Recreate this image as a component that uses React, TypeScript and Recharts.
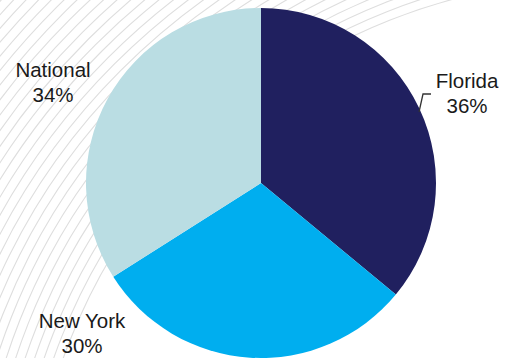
import React from "react";
import { PieChart, Pie, Cell } from "recharts";

const names = ["Florida", "New York", "National"];
const values = [36, 30, 34];
const colors = ["#20205f", "#00aeef", "#badde3"];
const labelOffsets: Record<string, [number, number]> = {
  Florida: [206, -95],
  "New York": [-179, 145],
  National: [-208, -106],
};

const data = names.map((n, i) => ({ name: n, value: values[i] }));

const W = 519;
const H = 358;

const Background = () => {
  const arcs = [];
  for (let i = 0; i < 32; i++) {
    const r = 570 + i * 9;
    arcs.push(
      <circle key={i} cx={600} cy={550} r={r} fill="none" stroke="#dedede" strokeWidth={1.1} />
    );
  }
  return (
    <svg width={W} height={H} style={{ position: "absolute", left: 0, top: 0 }}>
      <rect width={W} height={H} fill="#ffffff" />
      {arcs}
    </svg>
  );
};

const renderLabel = (props: any) => {
  const { cx, cy, name, value } = props;
  const [dx, dy] = labelOffsets[name];
  const x = cx + dx;
  const y = cy + dy;
  return (
    <g>
      {name === "Florida" && (
        <polyline
          points={`${x - 48},${y + 24} ${x - 44},${y + 6} ${x - 36},${y + 6}`}
          fill="none"
          stroke="#333"
          strokeWidth={1.3}
        />
      )}
      <text
        x={x}
        y={y}
        textAnchor="middle"
        fill="#1a1a1a"
        fontFamily="'Liberation Sans', Arial, sans-serif"
        fontSize={20.5}
      >
        <tspan x={x} dy={0}>{name}</tspan>
        <tspan x={x} dy={25}>{`${value}%`}</tspan>
      </text>
    </g>
  );
};

export default function App() {
  return (
    <div style={{ position: "absolute", left: 0, top: 0, width: W, height: H, overflow: "hidden" }}>
      <Background />
      <div style={{ position: "absolute", left: 0, top: 0 }}>
        <PieChart width={W} height={H} margin={{ top: 0, right: 0, bottom: 0, left: 0 }}>
          <Pie
            data={data}
            dataKey="value"
            nameKey="name"
            cx={261}
            cy={183}
            outerRadius={175}
            startAngle={90}
            endAngle={-270}
            stroke="none"
            label={renderLabel}
            labelLine={false}
            isAnimationActive={false}
          >
            {data.map((d, i) => (
              <Cell key={d.name} fill={colors[i]} />
            ))}
          </Pie>
        </PieChart>
      </div>
    </div>
  );
}
